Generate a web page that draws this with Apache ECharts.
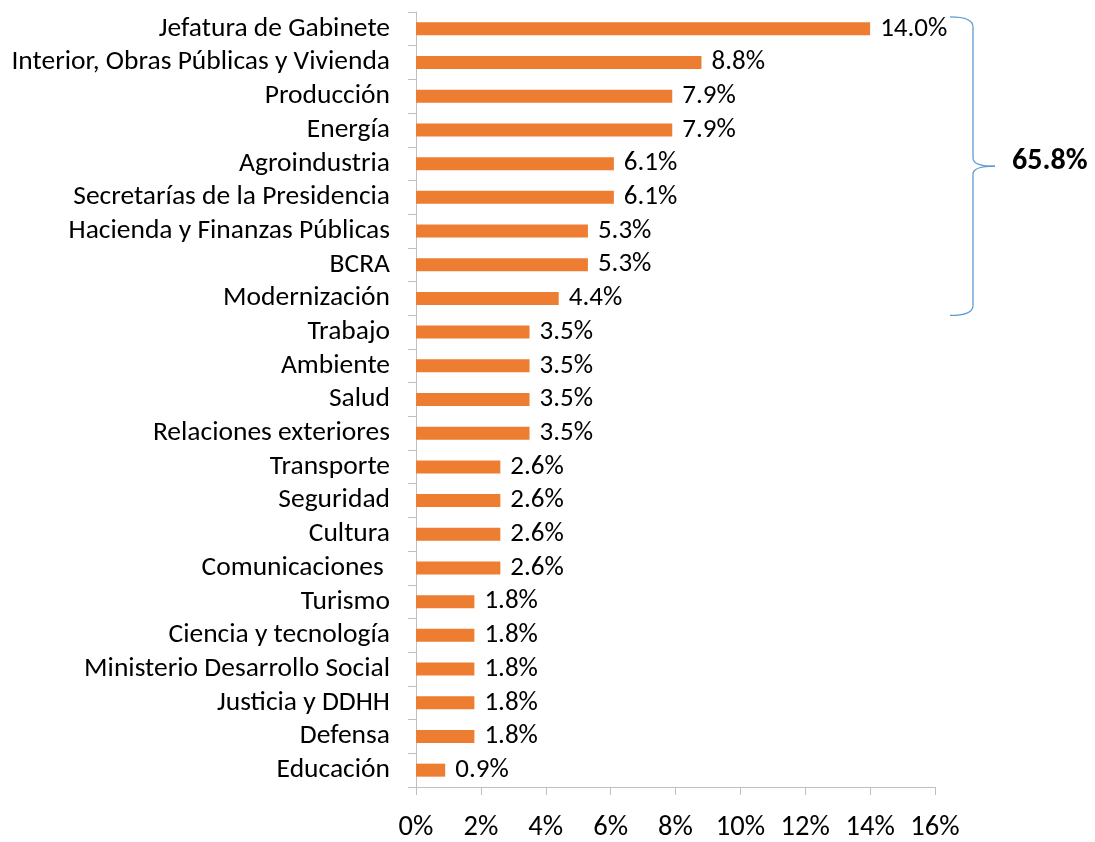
<!DOCTYPE html>
<html><head><meta charset="utf-8">
<script src="https://cdn.jsdelivr.net/npm/echarts@6/dist/echarts.min.js"></script>
<style>html,body{margin:0;padding:0;background:#fff}#c{width:1095px;height:842px}</style>
</head><body><div id="c"></div>
<script>
const categories = ["Jefatura de Gabinete","Interior, Obras Públicas y Vivienda","Producción","Energía","Agroindustria","Secretarías de la Presidencia","Hacienda y Finanzas Públicas","BCRA","Modernización","Trabajo","Ambiente","Salud","Relaciones exteriores","Transporte","Seguridad","Cultura","Comunicaciones ","Turismo","Ciencia y tecnología","Ministerio Desarrollo Social","Justicia y DDHH","Defensa","Educación"];
const values = [14.0,8.8,7.9,7.9,6.1,6.1,5.3,5.3,4.4,3.5,3.5,3.5,3.5,2.6,2.6,2.6,2.6,1.8,1.8,1.8,1.8,1.8,0.9];
const bracedCount = 9;
const xTicks = {min:0, max:16, interval:2};
const FONT = "Carlito, Calibri, 'Open Sans', sans-serif";

const chart = echarts.init(document.getElementById('c'), null, {renderer:'canvas'});
chart.setOption({
  animation:false,
  grid:{left:416, right:160, top:12, bottom:54},
  xAxis:{type:'value', min:xTicks.min, max:xTicks.max, interval:xTicks.interval,
    axisLine:{show:true, lineStyle:{color:'#BFBFBF'}},
    axisTick:{show:true, length:8, lineStyle:{color:'#BFBFBF'}},
    splitLine:{show:false},
    axisLabel:{formatter:'{value}%', fontSize:28.5, color:'#000', margin:26, fontFamily:FONT}},
  yAxis:{type:'category', data:categories, inverse:true,
    axisLine:{lineStyle:{color:'#BFBFBF'}},
    axisTick:{show:true, length:8, lineStyle:{color:'#BFBFBF'}},
    axisLabel:{fontSize:27.5, color:'#000', margin:26, fontFamily:FONT, interval:0}},
  series:[{type:'bar', data:values, barWidth:13, itemStyle:{color:'#ED7D31'},
    label:{show:true, position:'right', distance:10, fontSize:27, color:'#000', fontFamily:FONT,
      formatter:p=>p.value.toFixed(1)+'%'}}]
});

const total = values.slice(0,bracedCount).reduce((a,b)=>a+b,0);
const yTop = chart.convertToPixel({yAxisIndex:0}, categories[0]) - 12;
const yBot = chart.convertToPixel({yAxisIndex:0}, categories[bracedCount-1]) + 17;
const xRight = chart.convertToPixel({xAxisIndex:0}, xTicks.max);
const x0 = xRight + 15, xv = xRight + 38, xt = xRight + 60;
const ym = (yTop + yBot)/2;
const ls = {stroke:'#5B9BD5', lineWidth:1.3, fill:null};
chart.setOption({graphic:[
  {type:'bezierCurve', shape:{x1:x0,y1:yTop,x2:xv,y2:yTop+10,cpx1:xv,cpy1:yTop}, style:ls},
  {type:'line', shape:{x1:xv,y1:yTop+10,x2:xv,y2:ym-8}, style:ls},
  {type:'bezierCurve', shape:{x1:xv,y1:ym-8,x2:xt,y2:ym,cpx1:xv,cpy1:ym}, style:ls},
  {type:'bezierCurve', shape:{x1:xt,y1:ym,x2:xv,y2:ym+8,cpx1:xv,cpy1:ym}, style:ls},
  {type:'line', shape:{x1:xv,y1:ym+8,x2:xv,y2:yBot-10}, style:ls},
  {type:'bezierCurve', shape:{x1:xv,y1:yBot-10,x2:x0,y2:yBot,cpx1:xv,cpy1:yBot}, style:ls},
  {type:'text', x:xt+17, y:ym-5, style:{text:total.toFixed(1)+'%', font:`bold 30px ${FONT}`, fill:'#000', verticalAlign:'middle'}}
]});
</script></body></html>
